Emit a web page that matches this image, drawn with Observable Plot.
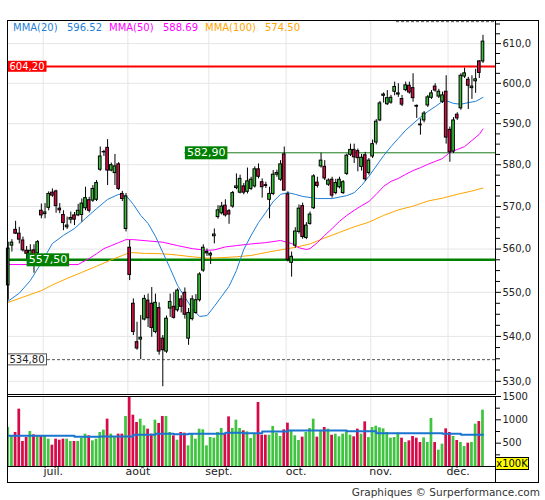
<!DOCTYPE html>
<html lang="fr">
<head>
<meta charset="utf-8">
<script src="https://cdn.jsdelivr.net/npm/d3@7"></script>
<script src="https://cdn.jsdelivr.net/npm/@observablehq/plot@0.6"></script>
<style>
html,body{margin:0;padding:0;background:#fff;}
#wrap{position:relative;width:545px;height:500px;overflow:hidden;font-family:"DejaVu Sans",sans-serif;}
#wrap svg{position:absolute;left:0;overflow:visible;}
</style>
</head>
<body>
<div id="wrap"></div>
<script>
// ---------- data ----------
const open  = [551.6,560.8,564.5,563.6,562.0,559.6,558.6,559.7,559.0,569.0,568.2,569.7,573.3,573.6,569.5,568.0,565.1,566.9,567.9,567.9,568.0,569.6,571.5,571.4,571.6,578.8,583.0,584.1,578.6,578.0,580.1,573.0,564.7,560.3,547.4,538.7,539.3,543.8,548.1,547.4,541.0,546.4,539.5,536.6,546.3,546.7,545.9,548.4,549.9,539.5,543.9,545.3,548.2,555.0,559.0,558.5,563.0,567.5,568.4,570.2,568.9,570.0,574.4,573.3,574.8,573.5,574.2,574.8,578.9,575.8,575.1,571.6,573.0,577.6,576.4,582.5,572.9,556.8,560.8,564.0,570.1,562.6,565.9,569.6,575.7,579.6,579.5,575.2,576.4,573.2,574.6,573.2,577.8,582.4,583.6,583.3,579.5,582.3,578.0,582.0,585.4,590.8,596.9,594.8,595.2,597.9,597.2,596.1,598.3,599.4,598.8,594.4,589.8,590.8,594.5,596.4,599.2,596.7,595.4,597.9,588.5,583.2,592.2,593.8,601.7,600.9,598.8,600.5,605.5,605.5];
const high  = [561.6,562.2,566.5,565.1,562.8,560.6,561.0,561.0,562.0,570.6,570.7,573.5,574.2,573.9,570.7,569.0,567.5,568.7,568.6,570.5,571.8,574.6,572.2,575.0,576.2,584.3,583.5,586.1,580.4,582.5,580.5,573.6,573.1,562.0,548.5,543.2,544.7,549.3,549.6,551.1,549.6,547.6,540.2,544.6,549.6,550.0,550.8,549.2,551.0,546.3,549.2,549.5,554.5,561.0,560.0,559.3,564.7,570.2,571.0,571.6,569.3,573.6,577.8,577.5,575.5,579.2,577.0,579.5,580.2,576.6,575.8,574.6,578.6,578.7,581.0,584.3,573.5,559.3,565.0,570.4,570.8,566.2,568.7,577.6,577.0,582.8,581.0,576.6,577.0,576.5,577.0,576.2,582.6,585.0,585.0,583.8,582.5,583.0,581.5,586.0,591.0,595.5,597.6,598.2,597.0,600.3,599.9,597.0,600.3,600.3,602.4,594.6,591.2,593.0,597.0,598.2,599.9,598.5,597.8,601.9,589.2,591.5,592.7,602.4,603.8,601.5,601.9,603.5,605.7,612.1];
const low   = [548.2,559.3,563.4,561.2,559.3,557.6,556.4,554.4,558.0,567.1,567.1,569.0,572.2,568.4,568.3,564.3,564.6,565.9,565.5,567.6,566.3,569.0,568.5,571.0,571.2,578.4,582.0,575.0,578.3,575.0,573.8,571.2,564.0,552.7,540.2,536.9,534.8,543.5,542.0,539.8,540.6,535.8,528.8,536.2,544.3,543.9,545.5,545.3,543.9,538.0,543.5,545.0,547.8,554.6,558.3,556.4,561.2,567.0,568.0,567.5,565.8,569.6,574.0,573.0,572.8,573.0,573.8,574.4,576.6,572.0,574.3,567.1,572.6,577.0,576.0,573.7,557.0,553.5,560.2,563.5,562.3,562.2,565.6,569.3,574.4,579.2,576.2,574.8,572.0,572.8,574.2,572.9,577.4,582.0,580.3,578.3,578.5,576.0,577.5,581.5,584.8,590.5,595.1,594.5,594.8,596.9,596.5,594.2,597.9,597.3,595.3,591.3,587.2,590.2,594.0,596.0,597.8,596.2,595.0,585.0,580.6,582.7,590.8,593.3,601.2,593.5,596.0,597.5,601.2,605.0];
const close = [560.1,561.5,563.6,562.2,559.7,558.9,559.6,556.6,561.6,567.9,568.6,573.0,572.6,570.1,569.1,566.1,565.5,567.3,566.9,569.0,570.7,572.0,569.0,574.2,575.6,582.0,583.1,578.6,579.9,579.6,574.2,571.8,572.4,554.0,541.0,537.3,539.7,548.5,544.1,541.9,547.6,536.6,536.9,544.0,547.8,544.2,550.4,546.7,544.9,545.3,548.4,548.2,554.1,560.3,559.3,558.9,563.4,569.1,570.0,567.9,568.1,573.2,574.8,576.6,573.3,576.0,576.4,578.9,577.1,574.6,574.9,573.0,577.6,578.0,580.1,573.8,557.5,558.2,564.1,569.5,562.8,565.5,568.1,577.2,574.9,581.0,576.7,576.2,572.6,575.6,576.4,575.8,582.2,583.6,581.8,581.6,581.7,576.5,581.0,585.0,590.5,595.0,597.2,596.3,596.4,599.1,597.5,594.7,599.5,597.7,596.3,594.2,589.6,592.5,596.5,597.5,598.2,597.9,597.0,586.6,583.0,590.8,591.3,601.9,602.5,599.4,599.2,601.0,602.6,610.5];
// volume, in hundreds of thousands
const volume = [836,657,729,1229,536,621,750,679,657,657,657,586,457,586,564,586,586,536,536,536,607,693,657,550,586,729,779,1014,693,643,693,693,1072,1560,1100,943,1014,872,800,693,993,922,1072,1072,729,657,564,729,715,443,693,586,800,786,443,621,607,729,815,693,1064,815,993,815,765,743,600,693,1372,671,671,671,857,714,643,786,929,757,657,557,629,729,814,1014,629,764,836,800,671,693,636,693,743,671,636,800,693,957,621,836,864,829,807,729,607,621,714,607,514,550,643,607,514,614,514,1029,514,350,479,807,729,643,557,514,429,500,514,907,964,1207];

const mma20Idx = [0,3,6,9,12,15,18,21,24,27,30,32,34,36,38,40,42,44,46,48,50,52,54,56,58,60,62,64,66,68,70,72,74,76,78,80,84,88,92,94,96,98,100,102,104,106,108,110,112,114,116,118,119,121,123,125,127,129];
const mma20Val = [548.0,549.8,552.7,556.8,561.3,563.2,564.8,567.2,569.5,571.7,572.9,572.6,570.5,567.9,566.0,563.0,559.2,555.5,551.6,548.9,546.3,544.5,544.7,546.8,549.1,551.4,555.0,559.9,563.2,566.2,568.6,571.2,572.9,573.3,572.9,572.4,571.9,571.9,572.6,573.3,575.0,577.2,579.7,582.2,584.4,586.4,588.4,590.0,591.6,593.0,594.2,595.5,595.7,595.0,594.8,595.2,595.5,596.5];
const mma50Idx = [0,10,19,20,22,24,26,28,30,32,34,38,42,46,50,54,56,59,62,66,70,74,77,79,81,82,84,86,88,90,92,94,96,98,100,102,104,106,108,110,112,114,116,118,120,122,124,126,128,129];
const mma50Val = [556.4,556.4,556.4,556.9,557.8,558.9,560.1,560.8,561.5,562.2,562.2,561.9,561.6,560.8,560.1,559.7,559.8,560.5,560.8,561.2,561.5,562.0,561.3,560.3,559.9,560.1,561.5,563.2,564.8,566.5,567.9,569.1,570.2,571.2,572.9,574.8,576.0,576.7,577.7,578.6,579.3,580.1,580.8,581.5,583.0,583.7,584.4,585.9,587.4,588.7];
const mma100Idx = [0,5,9,12,16,20,24,28,31,33,37,42,46,50,54,58,62,66,70,74,78,82,86,90,94,98,102,106,110,114,118,122,126,129];
const mma100Val = [547.7,549.2,550.4,551.7,553.2,554.6,556.0,557.5,558.5,559.2,559.0,558.9,558.6,558.2,557.9,558.0,558.2,558.5,559.2,559.8,560.4,561.2,562.6,563.9,565.2,566.3,567.9,569.2,570.1,571.3,572.0,572.9,573.7,574.4];
const volMaIdx = [0,18,25,34,40,45,49,59,64,69,76,92,100,118,123,129];
const volMaVal = [657,636,643,679,700,693,700,721,714,750,771,757,714,700,679,679];

const monthStart  = [10,33,55,76,99,120];
const monthLabels = ["juil.","août","sept.","oct.","nov.","déc."];
const priceTicks  = [530,540,550,560,570,580,590,600,610];
const priceMinor  = [532.5,535,537.5,542.5,545,547.5,552.5,555,557.5,562.5,565,567.5,572.5,575,577.5,582.5,585,587.5,592.5,595,597.5,602.5,605,607.5,612.5,615];
const volTicks = [500,1000,1500];
const volMinor = [250,750,1250];

const resistRef = 604.20, supportRef = 557.50, midRef = 582.90, lowRef = 534.80, topRef = 615.6;
const supportLabelAt = 5, midRefStart = 48, topRefStart = 105.5;
const legendNames  = ["MMA(20)","MMA(50)","MMA(100)"];
const legendValues = ["596.52","588.69","574.50"];

// ---------- build ----------
const wrap = document.getElementById("wrap");
const candles = open.map((o,i)=>({i,o,h:high[i],l:low[i],c:close[i],v:volume[i],up:close[i]>=o}));
const toSeries = (idx,val)=>idx.map((i,k)=>({i,v:val[k]}));
const mma20 = toSeries(mma20Idx,mma20Val), mma50 = toSeries(mma50Idx,mma50Val), mma100 = toSeries(mma100Idx,mma100Val);
const volMa = toSeries(volMaIdx,volMaVal);
const months = monthStart.map((s,k)=>({pos:s-0.5,label:monthLabels[k]}));
const GREEN="#36c236", RED="#d50c45", VGREEN="#3fc43f", VRED="#d60a48";
const BLUE="#1f7fd8", MAG="#ff00ff", ORA="#ffa500";
const grid="#e6e6e6";
const xDomain=[-0.2,132.4];
const monthGrid = months.map(d=>d.pos);
const st = {fontFamily:"DejaVu Sans",fontSize:"10px",background:"transparent",overflow:"visible"};
const fmt2 = v=>v.toFixed(2).replace(".",",");

const pricePlot = Plot.plot({
  width:545,height:395,marginLeft:7,marginRight:50,marginTop:20,marginBottom:1,
  style:st,
  x:{domain:xDomain,axis:null,label:null},
  y:{type:"log",domain:[527.1,615.9],axis:null,label:null},
  marks:[
    Plot.gridY(priceTicks,{stroke:grid,strokeOpacity:1}),
    Plot.gridX(monthGrid,{stroke:grid,strokeOpacity:1}),
    Plot.ruleY([lowRef],{stroke:"#555",strokeDasharray:"3,2"}),
    Plot.ruleY([topRef],{x1:topRefStart,x2:xDomain[1],stroke:"#555",strokeDasharray:"3,2"}),
    Plot.ruleY([supportRef],{stroke:"#008000",strokeWidth:2.5}),
    Plot.ruleY([midRef],{x1:midRefStart,x2:xDomain[1],stroke:"#1b7d1b",strokeWidth:1}),
    Plot.ruleY([resistRef],{stroke:"#ff0000",strokeWidth:2}),
    Plot.line(mma100,{x:"i",y:"v",stroke:ORA,strokeWidth:1}),
    Plot.line(mma50,{x:"i",y:"v",stroke:MAG,strokeWidth:1}),
    Plot.line(mma20,{x:"i",y:"v",stroke:BLUE,strokeWidth:1}),
    Plot.ruleX(candles,{x:"i",y1:"l",y2:"h",stroke:"#000",strokeWidth:1}),
    Plot.rect(candles,{x1:d=>d.i-0.36,x2:d=>d.i+0.36,y1:"o",y2:"c",fill:d=>d.up?GREEN:RED,stroke:"#000",strokeWidth:1}),
    Plot.frame({stroke:"#000"}),
    Plot.axisY(priceTicks,{anchor:"right",tickSize:5,tickPadding:2,label:null,tickFormat:d=>d.toFixed(1).replace(".",","),fill:"#222"}),
    Plot.axisY(priceMinor,{anchor:"right",tickSize:4,label:null,tickFormat:()=>""}),
    Plot.text([{v:resistRef,k:"box-red"}],{x:xDomain[0],y:"v",text:d=>fmt2(d.v),textAnchor:"start",dx:2,fill:"#fff",ariaLabel:"k"}),
    Plot.text([{v:supportRef,k:"box-green"}],{x:supportLabelAt,y:"v",text:d=>fmt2(d.v),textAnchor:"start",dx:2,fill:"#fff",fontSize:11,ariaLabel:"k"}),
    Plot.text([{v:midRef,k:"box-green2"}],{x:midRefStart,y:"v",text:d=>fmt2(d.v),textAnchor:"start",dx:2,fill:"#fff",fontSize:11,ariaLabel:"k"}),
    Plot.text([{v:lowRef,k:"box-white"}],{x:xDomain[0],y:"v",text:d=>fmt2(d.v),textAnchor:"start",dx:2,fill:"#222",ariaLabel:"k"})
  ]
});
pricePlot.style.top="0px";
wrap.appendChild(pricePlot);

const volPlot = Plot.plot({
  width:545,height:87,marginLeft:7,marginRight:50,marginTop:1,marginBottom:16,
  style:st,
  x:{domain:xDomain,axis:null,label:null},
  y:{domain:[0,1500],axis:null,label:null},
  marks:[
    Plot.gridX(monthGrid,{stroke:grid,strokeOpacity:1}),
    Plot.rect(candles,{x1:d=>d.i-0.37,x2:d=>d.i+0.37,y1:0,y2:"v",fill:d=>d.up?VGREEN:VRED,clip:true}),
    Plot.line(volMa,{x:"i",y:"v",curve:"step-after",stroke:"#1a74d0",strokeWidth:2}),
    Plot.frame({stroke:"#000"}),
    Plot.axisY(volTicks,{anchor:"right",tickSize:5,tickPadding:2,label:null,tickFormat:d=>String(d),fill:"#222"}),
    Plot.axisY(volMinor,{anchor:"right",tickSize:4,label:null,tickFormat:()=>""}),
    Plot.text(months,{x:"pos",text:"label",frameAnchor:"bottom",dx:10,dy:8,fontSize:11,fill:"#222"})
  ]
});
volPlot.style.top="395px";
wrap.appendChild(volPlot);

function addBoxes(svg,label,fill,stroke){
  let texts = Array.from(svg.querySelectorAll(`text[aria-label="${label}"]`));
  if(!texts.length) texts = Array.from(svg.querySelectorAll(`g[aria-label="${label}"] text`));
  texts.forEach(t=>{
    const b=t.getBBox();
    const r=document.createElementNS("http://www.w3.org/2000/svg","rect");
    r.setAttribute("x",b.x-2); r.setAttribute("y",b.y);
    r.setAttribute("width",b.width+4); r.setAttribute("height",b.height);
    r.setAttribute("fill",fill); r.setAttribute("stroke",stroke||"none");
    const tr=t.getAttribute("transform"); if(tr) r.setAttribute("transform",tr);
    t.parentNode.insertBefore(r,t);
  });
}
addBoxes(pricePlot,"box-red","#ff0000");
addBoxes(pricePlot,"box-green","#008000");
addBoxes(pricePlot,"box-green2","#008000");
addBoxes(pricePlot,"box-white","#ffffff","#555");

// frame, legend, unit box, footer
function div(css,html){const d=document.createElement("div");d.style.cssText="position:absolute;"+css;if(html!=null)d.textContent=html;wrap.appendChild(d);return d;}
div("left:7px;top:20px;width:532px;height:463px;border:1px solid #000;box-sizing:border-box;pointer-events:none;");
div("left:495px;top:466px;width:1px;height:16px;background:#000;");
div("left:495px;top:457px;width:34px;height:13px;background:#ffff00;border:1px solid #000;box-sizing:border-box;font-size:10px;line-height:11px;text-align:center;color:#000;","x100K");
const legendColors=[BLUE,MAG,ORA];
const legendX=[[13,67],[109,163],[205,265]];
legendNames.forEach((n,k)=>{
  div(`left:${legendX[k][0]}px;top:21px;font-size:10px;line-height:14px;color:${legendColors[k]};white-space:nowrap;`,n);
  div(`left:${legendX[k][1]}px;top:21px;font-size:10px;line-height:14px;color:${legendColors[k]};white-space:nowrap;`,legendValues[k]);
});
div("right:5px;top:485px;font-size:10.5px;line-height:14px;color:#333;white-space:nowrap;","Graphiques © Surperformance.com");
</script>
</body>
</html>
